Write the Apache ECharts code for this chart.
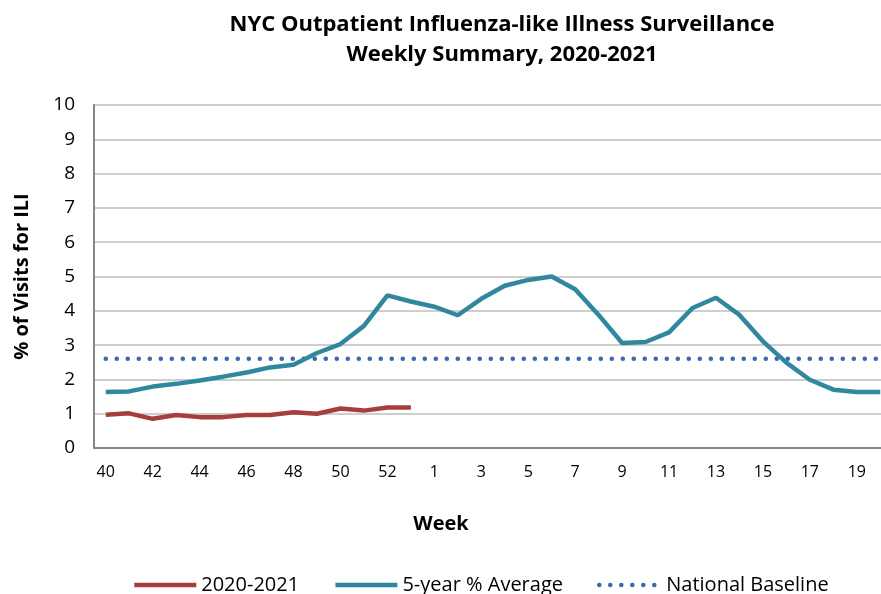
<!DOCTYPE html>
<html><head><meta charset="utf-8">
<script src="https://cdn.jsdelivr.net/npm/echarts@6/dist/echarts.min.js"></script>
<style>html,body{margin:0;padding:0;background:#fff}#c{width:881px;height:594px}</style>
</head><body><div id="c"></div>
<script>
const weeks = [40,41,42,43,44,45,46,47,48,49,50,51,52,53,1,2,3,4,5,6,7,8,9,10,11,12,13,14,15,16,17,18,19,20];
const season2020 = [0.97,1.01,0.85,0.96,0.90,0.90,0.96,0.96,1.04,1.00,1.15,1.09,1.18,1.18];
const fiveYearAvg = [1.63,1.65,1.79,1.87,1.97,2.08,2.20,2.35,2.43,2.77,3.03,3.56,4.45,4.27,4.12,3.87,4.35,4.73,4.90,5.00,4.63,3.88,3.06,3.09,3.37,4.08,4.38,3.88,3.11,2.49,1.99,1.70,1.63,1.63];
const baseline = weeks.map(() => 2.6);
const FONT = "'Open Sans',sans-serif";
const chart = echarts.init(document.getElementById('c'));
chart.setOption({
  animation: false,
  title: {
    text: 'NYC Outpatient Influenza-like Illness Surveillance\nWeekly Summary, 2020-2021',
    left: 497, textAlign: 'center', top: 5,
    textStyle: {fontFamily: FONT, fontWeight: 'bold', fontSize: 22, lineHeight: 30, color: '#000'}
  },
  legend: {
    top: 570, left: 127, itemWidth: 62, itemHeight: 14, itemGap: 34,
    itemStyle: {opacity: 0},
    lineStyle: {width: 4.5},
    textStyle: {fontFamily: FONT, fontSize: 20, color: '#000'},
    data: ['2020-2021', '5-year % Average', 'National Baseline']
  },
  grid: {left: 94, top: 105, right: -11, bottom: 146, containLabel: false, outerBoundsMode: 'none'},
  xAxis: {
    type: 'category', data: weeks, boundaryGap: true,
    name: 'Week', nameLocation: 'middle', nameGap: 66,
    nameTextStyle: {fontFamily: FONT, fontWeight: 'bold', fontSize: 20, color: '#000', padding: [0, 104, 0, 0]},
    axisLine: {lineStyle: {color: '#868686', width: 2}},
    axisTick: {inside: true, length: 5, interval: 0, lineStyle: {color: '#868686', width: 1.5}},
    axisLabel: {interval: 1, margin: 16, fontFamily: FONT, fontSize: 16, color: '#000'},
    splitLine: {show: false}
  },
  yAxis: {
    type: 'value', min: 0, max: 10, interval: 1,
    name: '% of Visits for ILI', nameLocation: 'middle', nameGap: 62, nameRotate: 90,
    nameTextStyle: {fontFamily: FONT, fontWeight: 'bold', fontSize: 20, color: '#000'},
    axisLine: {show: true, lineStyle: {color: '#868686', width: 2}},
    axisTick: {show: false},
    axisLabel: {margin: 19, fontFamily: FONT, fontSize: 19, color: '#000'},
    splitLine: {lineStyle: {color: '#BEBEBE', width: 1.5}}
  },
  series: [
    {name: '2020-2021', type: 'line', data: season2020, symbol: 'none',
     lineStyle: {color: '#A63F3C', width: 4.5}, itemStyle: {color: '#A63F3C'}, z: 4},
    {name: '5-year % Average', type: 'line', data: fiveYearAvg, symbol: 'none',
     lineStyle: {color: '#31889E', width: 4.5}, itemStyle: {color: '#31889E'}, z: 3},
    {name: 'National Baseline', type: 'line', data: baseline, symbol: 'none',
     lineStyle: {color: '#3A69AD', width: 4.5, type: [0.1, 10.9], cap: 'round'}, itemStyle: {color: '#3A69AD'}, z: 2}
  ]
});
</script></body></html>
